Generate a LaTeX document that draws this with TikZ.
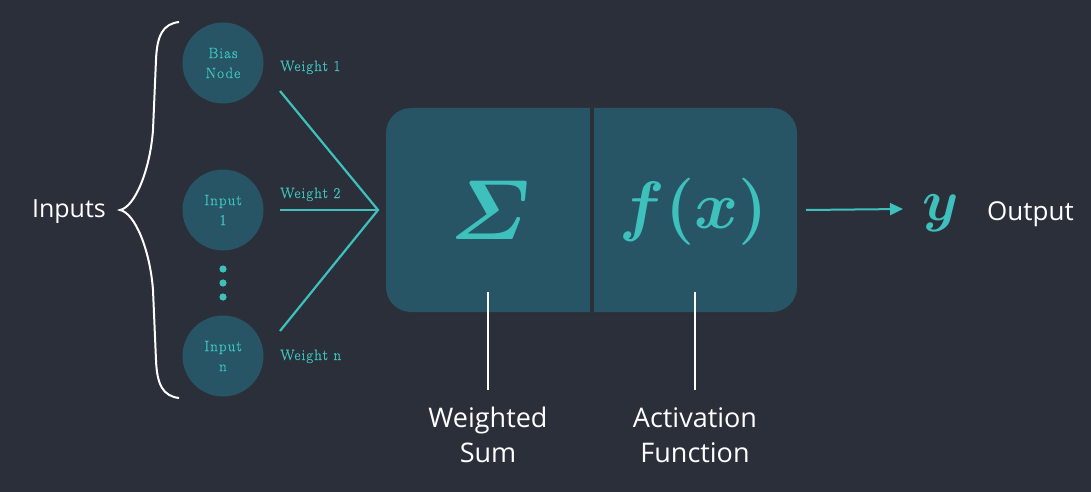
\RequirePackage{fix-cm}
\documentclass[tikz,border=0pt]{standalone}
\usepackage{fontspec}
\usepackage{amsmath}
\usepackage{bm}
\newfontfamily\labelsans{Open Sans}
\newfontfamily\spacedserif[LetterSpace=7,FakeBold=0.8]{Latin Modern Roman}
\usetikzlibrary{arrows.meta}
\definecolor{bg}{HTML}{2B2F3A}
\definecolor{nodefill}{HTML}{275565}
\definecolor{accent}{HTML}{3EC1BC}
\begin{document}
\begin{tikzpicture}[x=1pt,y=-1pt,
  neuron/.style={circle, fill=nodefill, minimum size=81pt, inner sep=0pt, text=accent, align=center, font=\spacedserif\fontsize{15}{20}\selectfont},
  wlabel/.style={text=accent, font=\spacedserif\fontsize{15}{17}\selectfont, anchor=base west, inner sep=0pt},
  wline/.style={draw=accent, line width=2.2pt},
  sans/.style={text=white, font=\labelsans\fontsize{25}{35}\selectfont, inner sep=0pt},
  pointer/.style={draw=white, line width=1.8pt},
  mathsym/.style={text=accent, inner sep=0pt}]
\fill[bg] (0,0) rectangle (1091,492);
\useasboundingbox (0,0) rectangle (1091,492);

% brace
\draw[white, line width=2pt] (179,22) .. controls (163,24) and (157,35) .. (156,60)
  -- (153,130) .. controls (150,170) and (135,207) .. (120,210)
  .. controls (135,213) and (150,250) .. (153,290)
  -- (156,360) .. controls (157,385) and (163,396) .. (179,398);

% neurons
\node[neuron] (bias) at (223,63) {Bias\\Node};
\node[neuron] (in1) at (223,210) {Input\\1};
\node[neuron] (inn) at (223,356) {Input\\n};
\fill[accent] (223,269) circle (3.6);
\fill[accent] (223,283) circle (3.6);
\fill[accent] (223,297) circle (3.6);

% weight labels
\node[wlabel] (wl1) at (280,71) {Weight 1};
\node[wlabel] (wl2) at (280,198) {Weight 2};
\node[wlabel] (wln) at (280,360) {Weight n};

% weight lines
\coordinate (hub) at (378,210);
\coordinate (w1) at (280,91);
\coordinate (w2) at (280,210);
\coordinate (wn) at (280,331);
\draw[wline, line join=miter] (w1) -- (hub) -- (wn);
\draw[wline] (w2) -- (hub);

% box
\node[fill=nodefill, rounded corners=25pt, minimum width=411pt, minimum height=204pt, inner sep=0pt] (box) at (591.5,210) {};
\draw[bg, line width=4pt] (box.north) -- (box.south);
\node[mathsym, font=\fontsize{85}{90}\selectfont] (sum) at (490,210) {$\bm{\varSigma}$};
\node[mathsym, font=\fontsize{67}{75}\selectfont] (fx) at (694,212) {$\bm{f(x)}$};

% output
\node[mathsym, font=\fontsize{58}{65}\selectfont] (yout) at (941,213) {$\bm{y}$};
\coordinate (aend) at (903,209);
\draw[draw=accent, line width=2pt, -{Triangle[length=13pt,width=12pt]}] ([xshift=9pt]box.east) -- (aend);

% labels
\node[sans, anchor=base east] (inputs) at (106,217) {Inputs};
\node[sans, anchor=base west, font=\labelsans\fontsize{26}{35}\selectfont] (output) at (987,220) {Output};
\node[sans, align=center, font=\labelsans\fontsize{27}{35}\selectfont] (ws) at (488,435) {Weighted\\Sum};
\node[sans, align=center, font=\labelsans\fontsize{27}{35}\selectfont] (af) at (695,435) {Activation\\Function};
\coordinate (wstop) at (488,292);
\coordinate (aftop) at (695,292);
\draw[pointer] (wstop) -- ([yshift=17pt]ws.north);
\draw[pointer] (aftop) -- ([yshift=17pt]af.north);
\end{tikzpicture}
\end{document}
